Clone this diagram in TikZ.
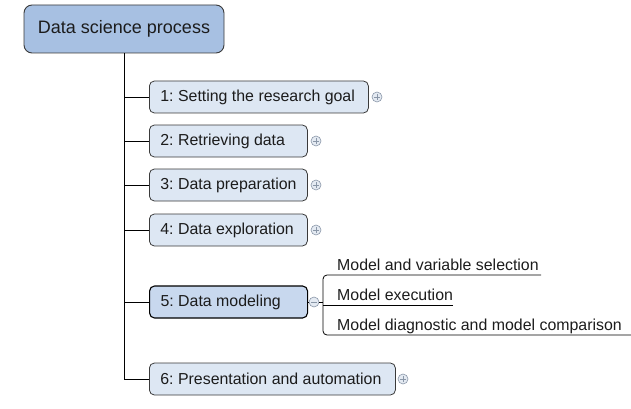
\documentclass[tikz,border=0pt]{standalone}
\usepackage{fontspec}
\setmainfont{Liberation Sans}
\frenchspacing
\definecolor{rootfill}{HTML}{A7C0E2}
\definecolor{boxfill}{HTML}{DDE7F3}
\definecolor{selfill}{HTML}{C8D8EE}
\definecolor{edge}{HTML}{3A3A3A}
\definecolor{txt}{HTML}{1C1C1C}
\definecolor{btnfill}{HTML}{E4EAF2}
\definecolor{btnedge}{HTML}{8A97A8}
\newcommand{\lbox}[2]{\makebox[#1][l]{#2}}
\tikzset{
  rootbox/.style={draw=edge, line width=0.9pt, fill=rootfill, rounded corners=8pt,
    minimum width=200pt, minimum height=48pt, inner sep=0pt,
    font=\fontsize{18}{20}\selectfont, text=txt},
  topicbox/.style={draw=edge, line width=0.8pt, fill=boxfill, rounded corners=5pt,
    anchor=west, minimum height=32pt, inner xsep=11pt, inner ysep=0pt,
    font=\fontsize{15.9}{18}\selectfont, text=txt},
  selbox/.style={topicbox, fill=selfill, draw=black, line width=1.1pt},
  subtxt/.style={anchor=base west, inner sep=0pt, font=\fontsize{15.9}{18}\selectfont, text=txt},
  link/.style={draw=black, line width=0.8pt},
  btn/.style={circle, draw=btnedge, fill=btnfill, line width=0.6pt, minimum size=10pt, inner sep=0pt},
}
\begin{document}
\begin{tikzpicture}[x=1pt,y=-1pt]
\useasboundingbox (0,0) rectangle (631,409);
\node[rootbox] (root) at (124,29) {Data science process};
\node[topicbox] (t1) at (149,97) {\lbox{197pt}{1: Setting the research goal}};
\node[topicbox] (t2) at (149,141) {\lbox{136pt}{2: Retrieving data}};
\node[topicbox] (t3) at (149,185) {\lbox{136pt}{3: Data preparation}};
\node[topicbox] (t4) at (149,230) {\lbox{136pt}{4: Data exploration}};
\node[selbox] (t5) at (149,302) {\lbox{136pt}{5: Data modeling}};
\node[topicbox] (t6) at (149,379) {\lbox{224pt}{6: Presentation and automation}};

\draw[link] (root.south) -- (root.south |- t6.west) -- (t6.west);
\foreach \n in {t1,t2,t3,t4,t5}{
  \draw[link] (root.south |- \n.west) -- (\n.west);
}

% expand/collapse buttons
\node[btn] (b1) at (377,97) {};
\node[btn] (b2) at (316,141) {};
\node[btn] (b3) at (316,185) {};
\node[btn] (b4) at (316,230) {};
\node[btn] (b5) at (314,302) {};
\node[btn] (b6) at (403,379) {};
\foreach \b in {b1,b2,b3,b4,b6}{
  \draw[btnedge, line width=0.6pt] ([xshift=-3pt]\b.center) -- ([xshift=3pt]\b.center)
    ([yshift=-3pt]\b.center) -- ([yshift=3pt]\b.center);
}
\draw[btnedge, line width=0.6pt] ([xshift=-3pt]b5.center) -- ([xshift=3pt]b5.center);
\draw[link, line width=0.6pt] (t5.east) -- (b5.west);

% subtopics
\node[subtxt] (s1) at (337,270) {Model and variable selection};
\node[subtxt] (s2) at (337,300) {Model execution};
\node[subtxt] (s3) at (337,330) {Model diagnostic and model comparison};
\coordinate (u1) at (541,275);
\coordinate (u2) at (453,305);
\coordinate (u3) at (631,335);
\coordinate (br) at (323,302);
\draw[link, rounded corners=4pt] (u1) -- (323,275) -- (323,335) -- (u3);
\draw[link] (u2) -- (323,305);
\draw[link, line width=0.6pt] (b5.east) -- (br);
\end{tikzpicture}
\end{document}
